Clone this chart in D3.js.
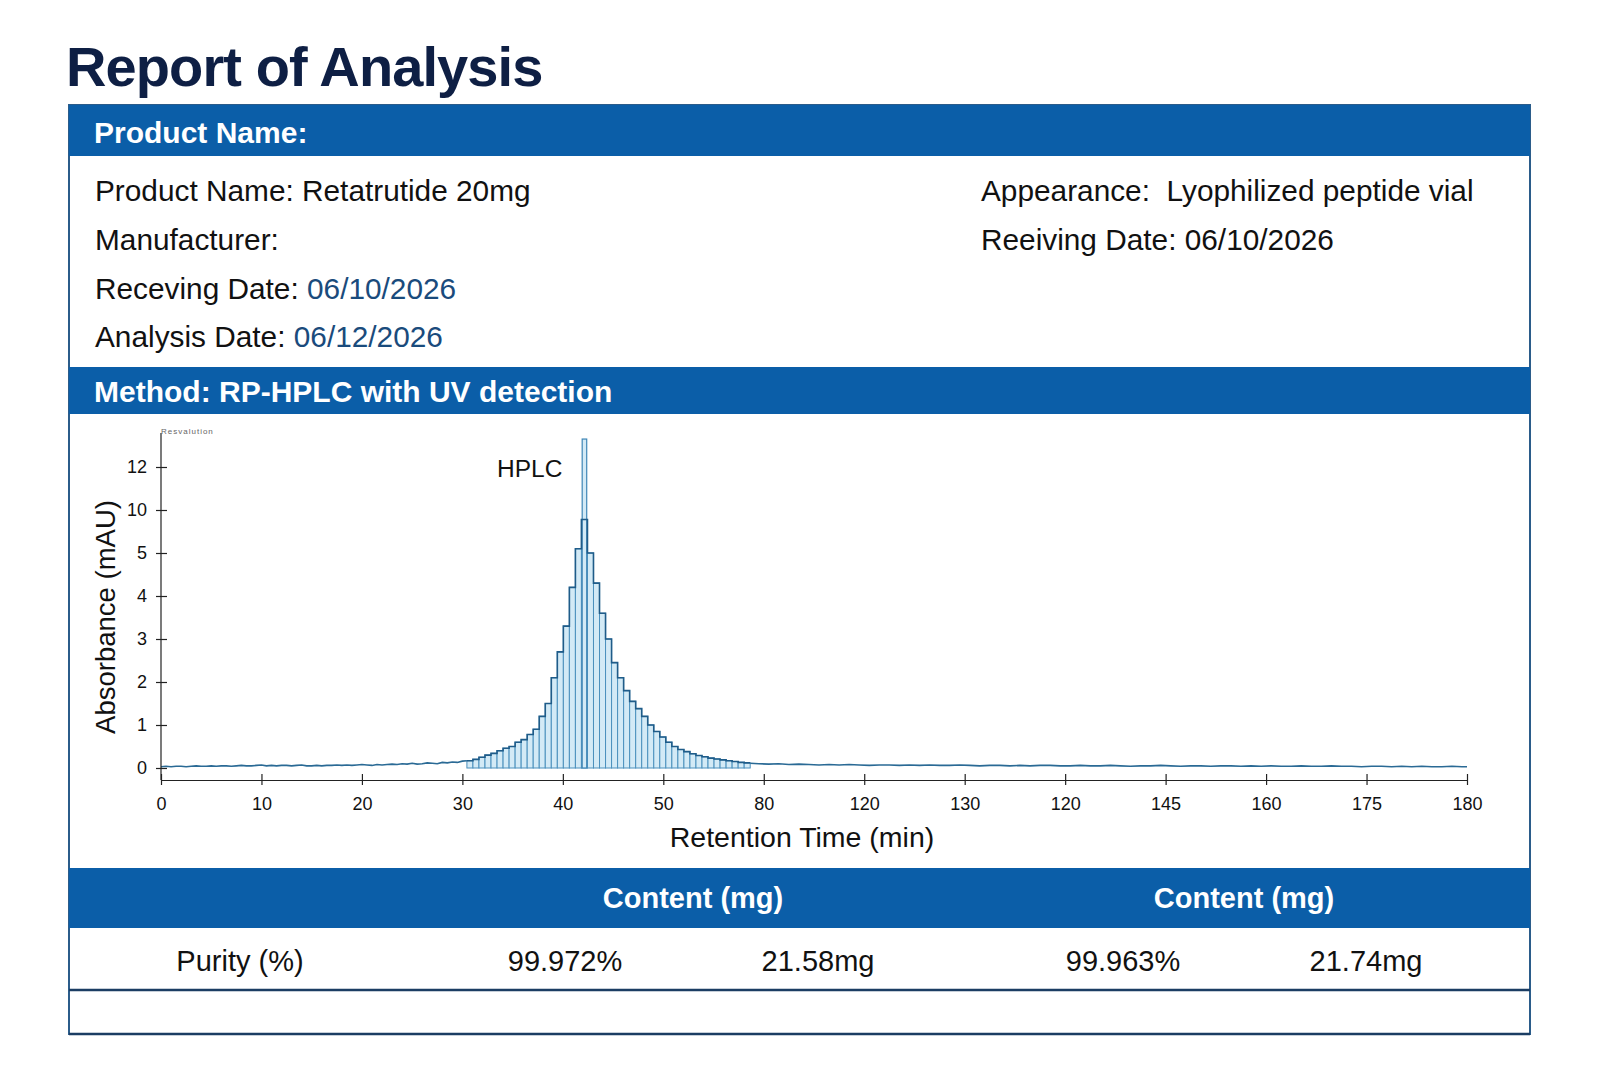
<!DOCTYPE html>
<html>
<head>
<meta charset="utf-8">
<script src="https://cdn.jsdelivr.net/npm/d3@7"></script>
<style>
  html, body { margin: 0; padding: 0; background: #ffffff; }
  svg { display: block; }
  text { font-family: "Liberation Sans", Arial, Helvetica, sans-serif; }
</style>
</head>
<body>
<svg id="chart" width="1600" height="1066"></svg>
<script>
// ---------------- DATA ----------------
const titleText = "Report of Analysis";
const sectionHeaders = ["Product Name:", "Method: RP-HPLC with UV detection"];
const infoLeftLabels = ["Product Name: Retatrutide 20mg", "Manufacturer:", "Receving Date: ", "Analysis Date: "];
const infoLeftValues = ["", "", "06/10/2026", "06/12/2026"];
const infoRightLabels = ["Appearance:  Lyophilized peptide vial", "Reeiving Date: 06/10/2026"];

// x ticks (positions on an evenly spaced axis) and their printed labels
const xTickPos = [0, 10, 20, 30, 40, 50, 60, 70, 80, 90, 100, 110, 120, 130];
const xTickLabels = ["0", "10", "20", "30", "40", "50", "80", "120", "130", "120", "145", "160", "175", "180"];
// y ticks (printed values, evenly spaced on the axis)
const yTickValues = [0, 1, 2, 3, 4, 5, 10, 12];

// chromatogram bars (peak region)
const barTime = [30.75, 31.35, 31.95, 32.55, 33.15, 33.75, 34.35, 34.95, 35.55, 36.15,
  36.75, 37.35, 37.95, 38.55, 39.15, 39.75, 40.35, 40.95, 41.55, 42.15,
  42.75, 43.35, 43.95, 44.55, 45.15, 45.75, 46.35, 46.95, 47.55, 48.15,
  48.75, 49.35, 49.95, 50.55, 51.15, 51.75, 52.35, 52.95, 53.55, 54.15,
  54.75, 55.35, 55.95, 56.55, 57.15, 57.75, 58.35];
const barAbs = [0.17, 0.2, 0.25, 0.3, 0.34, 0.4, 0.46, 0.5, 0.6, 0.66,
  0.78, 0.9, 1.2, 1.5, 2.1, 2.7, 3.3, 4.2, 5.5, 8.9,
  5.0, 4.3, 3.6, 3.0, 2.45, 2.1, 1.8, 1.55, 1.38, 1.2,
  1.0, 0.85, 0.72, 0.6, 0.5, 0.43, 0.38, 0.33, 0.29, 0.26,
  0.23, 0.21, 0.19, 0.17, 0.15, 0.13, 0.12];
const spikeTime = [42.15];
const spikeAbs = [13.3];

// baseline trace before the peak
const baseLeftTime = [0, 0.5, 1, 1.5, 2, 2.5, 3, 3.5, 4, 4.5, 5, 5.5, 6, 6.5, 7, 7.5, 8, 8.5, 9, 9.5,
  10, 10.5, 11, 11.5, 12, 12.5, 13, 13.5, 14, 14.5, 15, 15.5, 16, 16.5, 17, 17.5, 18, 18.5, 19, 19.5,
  20, 20.5, 21, 21.5, 22, 22.5, 23, 23.5, 24, 24.5, 25, 25.5, 26, 26.5, 27, 27.5, 28, 28.5, 29, 29.5, 30, 30.45];
const baseLeftAbs = [0.03, 0.04, 0.03, 0.04, 0.04, 0.03, 0.04, 0.05, 0.04, 0.04, 0.05, 0.04, 0.05, 0.05, 0.04, 0.05, 0.06, 0.05, 0.05, 0.06,
  0.07, 0.05, 0.06, 0.05, 0.06, 0.06, 0.05, 0.06, 0.07, 0.05, 0.05, 0.06, 0.05, 0.06, 0.06, 0.07, 0.06, 0.07, 0.06, 0.07,
  0.08, 0.07, 0.06, 0.08, 0.07, 0.08, 0.09, 0.08, 0.1, 0.09, 0.11, 0.09, 0.1, 0.12, 0.11, 0.1, 0.13, 0.12, 0.14, 0.13, 0.16, 0.17];
// baseline trace after the peak
const baseRightTime = [58.65, 59.5, 60.5, 61.5, 62.5, 63.5, 64.5, 65.5, 66.5, 67.5, 68.5, 69.5, 70.5, 71.5, 72.5, 73.5, 74.5, 75.5, 76.5, 77.5,
  78.5, 79.5, 80.5, 81.5, 82.5, 83.5, 84.5, 85.5, 86.5, 87.5, 88.5, 89.5, 90.5, 91.5, 92.5, 93.5, 94.5, 95.5, 96.5, 97.5,
  98.5, 99.5, 100.5, 101.5, 102.5, 103.5, 104.5, 105.5, 106.5, 107.5, 108.5, 109.5, 110.5, 111.5, 112.5, 113.5, 114.5, 115.5, 116.5, 117.5,
  118.5, 119.5, 120.5, 121.5, 122.5, 123.5, 124.5, 125.5, 126.5, 127.5, 128.5, 129.5, 130];
const baseRightAbs = [0.11, 0.1, 0.09, 0.1, 0.08, 0.09, 0.08, 0.07, 0.08, 0.07, 0.08, 0.07, 0.06, 0.07, 0.07, 0.06, 0.07, 0.06, 0.07, 0.06,
  0.06, 0.07, 0.06, 0.05, 0.06, 0.06, 0.05, 0.06, 0.05, 0.06, 0.06, 0.05, 0.05, 0.06, 0.05, 0.05, 0.06, 0.05, 0.04, 0.05,
  0.05, 0.06, 0.05, 0.04, 0.05, 0.05, 0.04, 0.05, 0.05, 0.04, 0.05, 0.04, 0.05, 0.04, 0.04, 0.05, 0.04, 0.04, 0.05, 0.04,
  0.04, 0.03, 0.04, 0.04, 0.03, 0.04, 0.03, 0.04, 0.03, 0.03, 0.04, 0.03, 0.03];

const peakLabel = "HPLC";
const xAxisTitle = "Retention Time (min)";
const yAxisTitle = "Absorbance (mAU)";
const smallLabel = "Resvalution";

const tableHeaders = ["Content (mg)", "Content (mg)"];
const rowLabel = "Purity (%)";
const purityValues = ["99.972%", "99.963%"];
const contentValues = ["21.58mg", "21.74mg"];

// ---------------- DRAW ----------------
const svg = d3.select("#chart");
const BLUE = "#0b5ea8";
const boxL = 69, boxR = 1530, boxT = 105, boxB = 1034;

svg.append("rect").attr("width", 1600).attr("height", 1066).attr("fill", "#ffffff");

// Title
svg.append("text").attr("x", 66).attr("y", 86)
  .attr("font-size", 56).attr("font-weight", "bold").attr("fill", "#0e1f44")
  .attr("letter-spacing", "-0.9").text(titleText);

// outer box
svg.append("rect").attr("x", boxL).attr("y", boxT).attr("width", boxR - boxL).attr("height", boxB - boxT)
  .attr("fill", "#ffffff").attr("stroke", "#2b5c8a").attr("stroke-width", 2);

// header bars
const bars = [
  { y: 105, h: 51 },
  { y: 367, h: 47 },
  { y: 868, h: 60 }
];
bars.forEach(b => {
  svg.append("rect").attr("x", boxL).attr("y", b.y).attr("width", boxR - boxL).attr("height", b.h).attr("fill", BLUE);
});
svg.append("text").attr("x", 94).attr("y", 143).attr("font-size", 30).attr("font-weight", "bold")
  .attr("fill", "#ffffff").text(sectionHeaders[0]);
svg.append("text").attr("x", 94).attr("y", 402).attr("font-size", 30).attr("font-weight", "bold")
  .attr("fill", "#ffffff").text(sectionHeaders[1]);

// info rows
const rowY = [201, 250, 299, 347];
infoLeftLabels.forEach((lab, i) => {
  const t = svg.append("text").attr("x", 95).attr("y", rowY[i]).attr("font-size", 29.8).attr("fill", "#111")
    .attr("xml:space", "preserve").style("white-space", "pre");
  t.append("tspan").text(lab);
  if (infoLeftValues[i]) t.append("tspan").attr("fill", "#1a4b7c").text(infoLeftValues[i]);
});
infoRightLabels.forEach((lab, i) => {
  svg.append("text").attr("x", 981).attr("y", rowY[i]).attr("font-size", 29.8).attr("fill", "#111")
    .attr("xml:space", "preserve").style("white-space", "pre").text(lab);
});

// ---- chart ----
const x = d3.scaleLinear().domain([0, 130]).range([161, 1467]);
const y = d3.scaleLinear().domain(yTickValues).range(yTickValues.map((d, i) => 768 - i * 43));
const axisY = 780;

const g = svg.append("g");

// bars
const bw = 0.6;
g.selectAll("rect.bar").data(barTime.map((t, i) => ({ t, v: barAbs[i] }))).join("rect")
  .attr("class", "bar")
  .attr("x", d => x(d.t - bw / 2)).attr("width", x(bw) - x(0))
  .attr("y", d => y(d.v)).attr("height", d => y(0) - y(d.v))
  .attr("fill", "#d3eaf6").attr("stroke", "#4a90bd").attr("stroke-width", 1);

const sw = 0.45;
g.selectAll("rect.spike").data(spikeTime.map((t, i) => ({ t, v: spikeAbs[i] }))).join("rect")
  .attr("class", "spike")
  .attr("x", d => x(d.t - sw / 2)).attr("width", x(sw) - x(0))
  .attr("y", d => y(d.v)).attr("height", d => y(0) - y(d.v))
  .attr("fill", "#d3eaf6").attr("stroke", "#3f86b6").attr("stroke-width", 1.2);

// step outline over bars
const stepPts = [[barTime[0] - bw / 2, barAbs[0]]]
  .concat(barTime.map((t, i) => [t, barAbs[i]]))
  .concat([[barTime[barTime.length - 1] + bw / 2, barAbs[barAbs.length - 1]]]);
const stepLine = d3.line().x(d => x(d[0])).y(d => y(d[1])).curve(d3.curveStep);
g.append("path").attr("d", stepLine(stepPts)).attr("fill", "none")
  .attr("stroke", "#1f5c89").attr("stroke-width", 1.6);

// baseline traces
const line = d3.line().x(d => x(d[0])).y(d => y(d[1]));
g.append("path").attr("d", line(baseLeftTime.map((t, i) => [t, baseLeftAbs[i]])))
  .attr("fill", "none").attr("stroke", "#2a6a95").attr("stroke-width", 1.6);
g.append("path").attr("d", line(baseRightTime.map((t, i) => [t, baseRightAbs[i]])))
  .attr("fill", "none").attr("stroke", "#2a6a95").attr("stroke-width", 1.6);

// y axis
const yAxis = d3.axisLeft(y).tickValues(yTickValues).tickSize(6).tickSizeOuter(0).tickPadding(8);
const yg = svg.append("g").attr("transform", "translate(161,0)").call(yAxis);
yg.select(".domain").remove();
yg.selectAll(".tick line").attr("x1", 6).attr("x2", -5).attr("stroke", "#222").attr("stroke-width", 1.2);
yg.selectAll(".tick text").attr("font-size", 18).attr("fill", "#111")
  .attr("font-family", "'Liberation Sans', Arial, sans-serif");
svg.append("line").attr("x1", 161).attr("x2", 161).attr("y1", 433).attr("y2", axisY)
  .attr("stroke", "#222").attr("stroke-width", 1.2);

// x axis
const xAxis = d3.axisBottom(x).tickValues(xTickPos).tickFormat((d, i) => xTickLabels[i])
  .tickSize(5).tickSizeOuter(0).tickPadding(12);
const xg = svg.append("g").attr("transform", `translate(0,${axisY})`).call(xAxis);
xg.select(".domain").attr("stroke", "#222").attr("stroke-width", 1.2);
xg.selectAll(".tick line").attr("y1", -6).attr("y2", 5).attr("stroke", "#222").attr("stroke-width", 1.2);
xg.selectAll(".tick text").attr("font-size", 18).attr("fill", "#111")
  .attr("font-family", "'Liberation Sans', Arial, sans-serif");

// labels
svg.append("text").attr("x", 497).attr("y", 477).attr("font-size", 24.5).attr("fill", "#111").text(peakLabel);
svg.append("text").attr("x", 802).attr("y", 847).attr("text-anchor", "middle").attr("font-size", 28.5)
  .attr("fill", "#111").text(xAxisTitle);
svg.append("text").attr("transform", "translate(115,617) rotate(-90)").attr("text-anchor", "middle")
  .attr("font-size", 27.5).attr("fill", "#111").text(yAxisTitle);
svg.append("text").attr("x", 161).attr("y", 434).attr("font-size", 8).attr("fill", "#666")
  .attr("letter-spacing", "1").text(smallLabel);

// ---- table ----
const headerCx = [693, 1244];
tableHeaders.forEach((h, i) => {
  svg.append("text").attr("x", headerCx[i]).attr("y", 908).attr("text-anchor", "middle")
    .attr("font-size", 29).attr("font-weight", "bold").attr("fill", "#ffffff").text(h);
});
const rowTextY = 971;
svg.append("text").attr("x", 240).attr("y", rowTextY).attr("text-anchor", "middle").attr("font-size", 29)
  .attr("fill", "#111").text(rowLabel);
const purityCx = [565, 1123], contentCx = [818, 1366];
purityValues.forEach((v, i) => {
  svg.append("text").attr("x", purityCx[i]).attr("y", rowTextY).attr("text-anchor", "middle").attr("font-size", 29)
    .attr("fill", "#111").text(v);
});
contentValues.forEach((v, i) => {
  svg.append("text").attr("x", contentCx[i]).attr("y", rowTextY).attr("text-anchor", "middle").attr("font-size", 29)
    .attr("fill", "#111").text(v);
});
svg.append("line").attr("x1", boxL).attr("x2", boxR).attr("y1", 990).attr("y2", 990)
  .attr("stroke", "#1b3d63").attr("stroke-width", 2.5);
svg.append("line").attr("x1", boxL).attr("x2", boxR).attr("y1", boxB).attr("y2", boxB)
  .attr("stroke", "#1b3d63").attr("stroke-width", 2.5);
</script>
</body>
</html>
